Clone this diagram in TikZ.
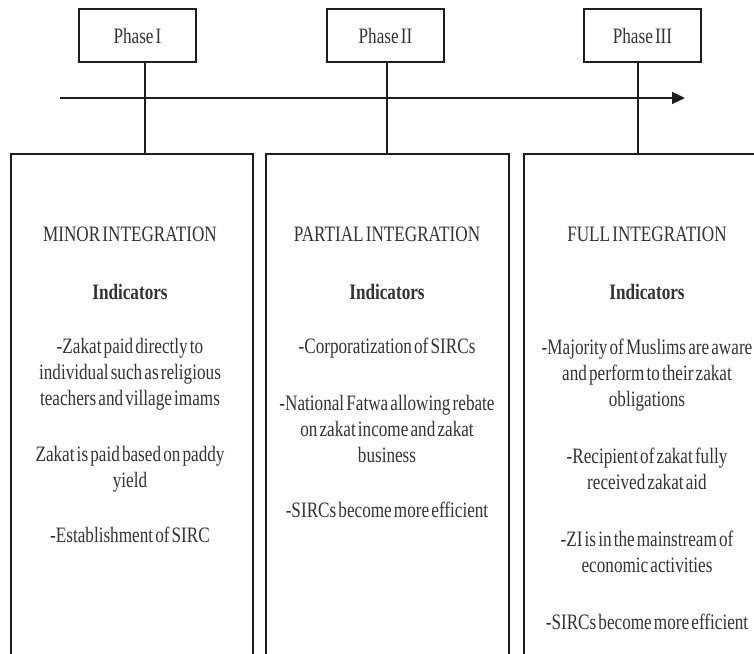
\documentclass[tikz,border=0pt]{standalone}
\usepackage{fontspec}
\setmainfont{Liberation Serif}[FakeStretch=0.78, WordSpace=0.5]
\usetikzlibrary{arrows.meta}
\definecolor{ink}{HTML}{1E1E1E}
\definecolor{txt}{HTML}{333333}
\begin{document}
\begin{tikzpicture}[x=1pt,y=-1pt,
  phasebox/.style={draw=ink, line width=1.5pt, minimum width=117pt, minimum height=53pt, inner sep=0pt, text=txt, font=\fontsize{22}{24}\selectfont},
  stagebox/.style={draw=ink, line width=1.5pt, inner sep=0pt, anchor=north west},
  heading/.style={anchor=base, inner sep=0pt, text=txt, font=\fontsize{22}{26}\selectfont},
  subhead/.style={anchor=base, inner sep=0pt, text=txt, font=\fontsize{22}{26}\selectfont\bfseries},
  body/.style={anchor=base, inner sep=0pt, text=txt, align=center, font=\fontsize{22}{26}\selectfont},
  link/.style={draw=ink, line width=1.2pt},
  timeline/.style={draw=ink, line width=1.5pt, -{Triangle[length=13pt,width=12pt]}}]
\useasboundingbox (0,0) rectangle (754,653);
\clip (0,0) rectangle (754,653);

% phase boxes
\node[phasebox] (p1) at (137.5,35.5) {Phase I};
\node[phasebox] (p2) at (385.5,35.5) {Phase II};
\node[phasebox] (p3) at (642.5,35.5) {Phase III};

% stage boxes
\node[stagebox, minimum width=242pt, minimum height=530pt] (b1) at (10,153) {};
\node[stagebox, minimum width=243pt, minimum height=530pt] (b2) at (265,153) {};
\node[stagebox, minimum width=248pt, minimum height=530pt] (b3) at (523,153) {};

% timeline
\coordinate (t0) at (60,98);
\coordinate (t1) at (685,98);
\draw[timeline] (t0) -- (t1);

% connectors
\draw[link] ([xshift=7.5pt]p1.south) -- ([xshift=7.5pt]p1.south |- b1.north);
\draw[link] ([xshift=1.5pt]p2.south) -- ([xshift=1.5pt]p2.south |- b2.north);
\draw[link] ([xshift=-4.5pt]p3.south) -- ([xshift=-4.5pt]p3.south |- b3.north);

% box 1 (base anchor = baseline of the last line)
\node[heading] (h1) at (130,241) {MINOR INTEGRATION};
\node[subhead] (i1) at (130,299) {Indicators};
\node[body] (a1) at (130,405) {-Zakat paid directly to\\individual such as religious\\teachers and village imams};
\node[body] (a2) at (130,487) {Zakat is paid based on paddy\\yield};
\node[body] (a3) at (130,542) {-Establishment of SIRC};

% box 2
\node[heading] (h2) at (387,241) {PARTIAL INTEGRATION};
\node[subhead] (i2) at (387,299) {Indicators};
\node[body] (c1) at (387,353) {-Corporatization of SIRCs};
\node[body] (c2) at (387,462) {-National Fatwa allowing rebate\\on zakat income and zakat\\business};
\node[body] (c3) at (387,517) {-SIRCs become more efficient};

% box 3
\node[heading] (h3) at (647,241) {FULL INTEGRATION};
\node[subhead] (i3) at (647,299) {Indicators};
\node[body] (d1) at (647,406) {-Majority of Muslims are aware\\and perform to their zakat\\obligations};
\node[body] (d2) at (647,489) {-Recipient of zakat fully\\received zakat aid};
\node[body] (d3) at (647,572) {-ZI is in the mainstream of\\economic activities};
\node[body] (d4) at (647,629) {-SIRCs become more efficient};
\end{tikzpicture}
\end{document}
